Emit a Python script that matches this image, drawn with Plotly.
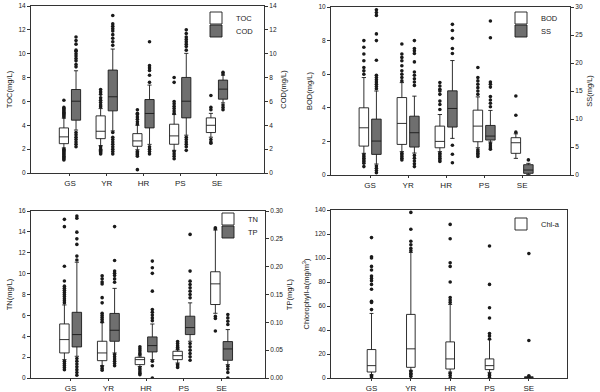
import plotly.graph_objects as go

categories = ["GS", "YR", "HR", "PS", "SE"]
cat_pos = [1, 2, 3, 4, 5]

# ---- Panel 1: TOC / COD (mg/L) ----
toc_q1 = [2.46, 2.88, 2.24, 2.41, 3.39]
toc_med = [3.03, 3.50, 2.69, 3.11, 4.00]
toc_q3 = [3.78, 4.79, 3.30, 4.09, 4.62]
toc_lo = [2.1, 2.3, 1.95, 1.9, 3.0]
toc_hi = [4.6, 5.4, 4.0, 4.9, 5.0]
toc_out = [
    [6.1, 5.5, 5.4, 5.3, 5.2, 5.1, 5.0, 4.9, 4.8, 4.7, 2.0, 1.9, 1.8, 1.7, 1.6, 1.5, 1.4, 1.3, 1.2, 1.1],
    [7.0, 6.8, 6.6, 6.3, 6.1, 5.9, 5.7, 5.55, 2.2, 2.0, 1.9, 1.8, 1.7, 1.6],
    [5.3, 5.0, 4.9, 4.7, 4.5, 4.3, 4.1, 1.8, 1.7, 1.6, 1.5, 1.4, 0.28],
    [8.0, 7.6, 6.0, 5.8, 5.6, 5.4, 5.2, 5.0, 1.8, 1.6, 1.4, 1.2],
    [6.5, 5.5, 5.3, 2.8, 2.6, 2.5],
]
cod_q1 = [4.43, 5.21, 3.78, 4.62, 6.19]
cod_med = [6.02, 6.39, 4.99, 6.02, 7.03]
cod_q3 = [7.0, 8.63, 6.16, 8.01, 7.79]
cod_lo = [3.6, 3.53, 2.4, 3.17, 5.88]
cod_hi = [8.57, 10.39, 7.37, 10.03, 8.2]
cod_out = [
    [11.4, 11.1, 10.8, 10.3, 10.2, 10.0, 9.8, 9.6, 9.4, 9.1, 8.9, 3.4, 3.2, 3.0, 2.8, 2.6, 2.4, 2.2],
    [13.2, 12.5, 12.3, 12.1, 11.9, 11.6, 11.3, 11.0, 10.7, 3.4, 3.0, 2.8, 2.6, 2.4, 2.2, 2.0, 1.8, 1.6],
    [11.0, 9.0, 8.8, 8.6, 8.2, 7.6, 2.2, 2.0, 1.8, 1.6],
    [12.0, 11.7, 11.4, 11.2, 11.0, 10.8, 10.6, 10.3, 3.0, 2.8, 2.6, 2.4, 2.2, 1.9],
    [8.45, 8.3, 5.7, 5.5, 5.3],
]

# ---- Panel 2: BOD / SS (mg/L) ----
bod_q1 = [1.72, 1.82, 1.62, 1.98, 1.29]
bod_med = [2.81, 3.07, 2.0, 2.91, 1.92]
bod_q3 = [4.0, 4.61, 2.91, 3.86, 2.22]
bod_lo = [1.29, 1.39, 1.39, 1.62, 0.99]
bod_hi = [5.8, 5.5, 3.6, 4.65, 2.45]
bod_out = [
    [8.0, 7.6, 7.2, 6.8, 6.4, 6.2, 6.0, 1.2, 1.1, 1.0, 0.9, 0.8, 0.7, 0.5],
    [7.8, 7.2, 7.0, 6.8, 6.5, 6.2, 6.0, 5.8, 5.6, 1.3, 1.2, 1.1, 1.0, 0.9],
    [5.5, 5.3, 5.1, 5.0, 4.8, 4.4, 4.2, 3.9, 1.3, 1.2, 1.1, 1.0, 0.9, 0.8],
    [6.4, 5.8, 5.6, 5.4, 5.2, 5.0, 4.8, 1.5, 1.4, 1.3, 1.2, 1.1],
    [4.7, 3.56, 2.55],
]
ss_q1 = [3.68, 4.99, 8.56, 6.24, 0.3]
ss_med = [6.06, 7.55, 11.88, 6.95, 0.89]
ss_q3 = [9.98, 10.5, 15.03, 8.85, 1.84]
ss_lo = [1.96, 3.92, 6.54, 5.9, 0.1]
ss_hi = [15.0, 14.08, 20.44, 11.53, 2.08]
ss_out = [
    [29.5, 29.0, 28.5, 25.2, 24.0, 20.5, 17.8, 17.4, 17.0, 16.6, 16.2, 15.8, 15.4, 1.6, 1.2, 0.8, 0.4],
    [24.0, 22.6, 22.2, 21.7, 20.2, 18.4, 17.8, 17.2, 16.6, 16.0, 3.5, 3.0, 2.5, 2.0, 1.5],
    [26.9, 25.8, 24.4, 22.6, 21.7, 5.3, 3.7, 2.2],
    [27.5, 24.5, 16.6, 16.2, 15.7, 14.0, 13.4, 12.8, 12.2, 5.6, 5.2, 4.8, 4.6],
    [2.7],
]

# ---- Panel 3: TN / TP (mg/L) ----
tn_q1 = [2.4, 1.66, 1.28, 1.76, 7.04]
tn_med = [3.68, 2.4, 1.76, 2.14, 9.02]
tn_q3 = [5.18, 3.52, 1.98, 2.56, 10.18]
tn_lo = [1.76, 1.18, 1.1, 1.44, 6.2]
tn_hi = [7.0, 5.3, 2.1, 2.7, 14.18]
tn_out = [
    [15.2, 14.5, 10.7, 9.3, 8.8, 8.6, 8.4, 8.2, 8.0, 7.8, 7.6, 7.4, 7.2, 1.6, 1.4, 1.2, 1.0, 0.8],
    [9.8, 9.5, 9.2, 9.0, 7.7, 7.2, 6.2, 6.0, 5.8, 5.6, 5.4, 1.1, 0.9, 0.75],
    [3.0, 2.8, 2.6, 2.4, 2.25, 0.95, 0.8, 0.6, 0.45, 0.32],
    [3.5, 3.3, 3.1, 2.95, 2.8, 1.3, 1.15, 1.0],
    [14.4, 14.3, 5.9, 5.7, 4.5],
]
tp_q1 = [0.0558, 0.066, 0.0468, 0.078, 0.0318]
tp_med = [0.078, 0.0858, 0.0582, 0.0906, 0.0522]
tp_q3 = [0.118, 0.116, 0.0738, 0.111, 0.0654]
tp_lo = [0.039, 0.045, 0.033, 0.066, 0.024]
tp_hi = [0.208, 0.161, 0.097, 0.135, 0.087]
tp_out = [
    [0.291, 0.287, 0.262, 0.25, 0.24, 0.219, 0.212, 0.035, 0.03, 0.025, 0.02, 0.015, 0.01, 0.005],
    [0.272, 0.211, 0.192, 0.188, 0.184, 0.178, 0.172, 0.042, 0.038, 0.034, 0.03, 0.026, 0.022],
    [0.21, 0.198, 0.188, 0.156, 0.123, 0.118, 0.113, 0.108, 0.103, 0.03, 0.022, 0.0],
    [0.258, 0.192, 0.174, 0.168, 0.162, 0.156, 0.15, 0.144, 0.062, 0.056, 0.05, 0.044, 0.038, 0.032],
    [0.114, 0.108, 0.102, 0.096, 0.021, 0.016, 0.01, 0.0],
]

# ---- Panel 4: Chl-a (mg/m3) ----
chl_q1 = [5.0, 8.9, 7.5, 7.0, 0.3]
chl_med = [10.3, 24.3, 15.9, 10.3, 0.6]
chl_q3 = [23.7, 53.0, 30.1, 15.9, 1.0]
chl_lo = [2.8, 6.4, 5.0, 4.7, 0.1]
chl_hi = [53.8, 104.6, 61.3, 32.0, 1.5]
chl_out = [
    [117, 101, 100, 93, 90, 85, 83, 81, 78, 74, 64, 63, 57, 2.0, 1.0],
    [138, 124, 114, 111, 108, 106, 5.6, 4.0, 3.0, 1.4],
    [128, 116, 96, 93, 80, 67, 65, 63, 4.0, 2.0, 0.0],
    [110, 78, 58.5, 50, 37, 35, 32.5, 3.3, 2.0, 0.5],
    [103.7, 31.2, 1.8],
]

FONT = "Liberation Sans, Arial, sans-serif"
INK = "#1a1a1a"
GRAY = "#6f6f6f"
OFF = 0.165
BW = 0.25

fig = go.Figure()


def add_series(name, q1, med, q3, lo, hi, out, shift, fill, xa, ya, legend, width=BW):
    xpos = [c + shift for c in cat_pos]
    fig.add_trace(go.Box(
        x=xpos, q1=q1, median=med, q3=q3, lowerfence=lo, upperfence=hi,
        name=name, fillcolor=fill, line=dict(color=INK, width=0.9),
        width=width, whiskerwidth=0.45, boxpoints=False,
        xaxis=xa, yaxis=ya, legend=legend, showlegend=True, hoverinfo="skip",
    ))
    xs, ys = [], []
    for xp, vals in zip(xpos, out):
        xs += [xp] * len(vals)
        ys += vals
    fig.add_trace(go.Scatter(
        x=xs, y=ys, mode="markers", marker=dict(size=3.6, color=INK),
        xaxis=xa, yaxis=ya, showlegend=False, hoverinfo="skip",
    ))


add_series("TOC", toc_q1, toc_med, toc_q3, toc_lo, toc_hi, toc_out, -OFF, "white", "x", "y", "legend")
add_series("COD", cod_q1, cod_med, cod_q3, cod_lo, cod_hi, cod_out, OFF, GRAY, "x", "y2", "legend2")
add_series("BOD", bod_q1, bod_med, bod_q3, bod_lo, bod_hi, bod_out, -OFF, "white", "x2", "y3", "legend3")
add_series("SS", ss_q1, ss_med, ss_q3, ss_lo, ss_hi, ss_out, OFF, GRAY, "x2", "y4", "legend4")
add_series("TN", tn_q1, tn_med, tn_q3, tn_lo, tn_hi, tn_out, -OFF, "white", "x3", "y5", "legend5")
add_series("TP", tp_q1, tp_med, tp_q3, tp_lo, tp_hi, tp_out, OFF, GRAY, "x3", "y6", "legend6")
add_series("Chl-a", chl_q1, chl_med, chl_q3, chl_lo, chl_hi, chl_out, 0.0, "white", "x4", "y7", "legend7", width=0.22)

W, H = 600, 392


def px_x(p):
    return p / W


def px_y(p):
    return 1 - p / H


tick_font = dict(family=FONT, size=6.5, color=INK)
title_font = dict(family=FONT, size=7.5, color=INK)
cat_font = dict(family=FONT, size=8, color=INK)

axis_common = dict(showline=True, linecolor="#333", linewidth=1, ticks="outside",
                   tickcolor="#333", showgrid=False, zeroline=False,
                   automargin=False)


def xaxis(dom, rng, anchor):
    return dict(domain=dom, range=rng, anchor=anchor, tickvals=cat_pos, ticktext=categories,
                tickfont=cat_font, mirror=True, ticklen=2, **axis_common)


def yleft(dom, rng, dtick, title, anchor, fmt=None, mirror=False):
    d = dict(domain=dom, range=rng, dtick=dtick, anchor=anchor, tickfont=tick_font, ticklen=3,
             title=dict(text=title, font=title_font, standoff=4), mirror=mirror, **axis_common)
    if fmt:
        d["tickformat"] = fmt
    return d


def yright(over, rng, dtick, title, anchor, fmt=None):
    d = dict(overlaying=over, side="right", range=rng, dtick=dtick, anchor=anchor, ticklen=3,
             tickfont=tick_font, title=dict(text=title, font=title_font, standoff=4), **axis_common)
    if fmt:
        d["tickformat"] = fmt
    return d


legend_style = dict(bgcolor="rgba(0,0,0,0)", borderwidth=0, font=dict(family=FONT, size=7.5, color=INK),
                    xanchor="left", yanchor="middle", itemwidth=30)


def leg(xp, yp):
    d = dict(legend_style)
    d.update(x=px_x(xp), y=px_y(yp))
    return d


fig.update_layout(
    width=W, height=H, margin=dict(l=0, r=0, t=0, b=0),
    paper_bgcolor="white", plot_bgcolor="white",
    font=dict(family=FONT, color=INK),
    boxmode="overlay",
    xaxis=xaxis([px_x(31), px_x(264)], [-0.06, 6.28], "y"),
    yaxis=yleft([px_y(173), px_y(6)], [0, 14], 2, "TOC(mg/L)", "x"),
    yaxis2=yright("y", [0, 14], 2, "COD(mg/L)", "x"),
    xaxis2=xaxis([px_x(331), px_x(570)], [-0.03, 6.26], "y3"),
    yaxis3=yleft([px_y(175), px_y(7)], [0, 10], 2, "BOD(mg/L)", "x2"),
    yaxis4=yright("y3", [0, 30], 5, "SS(mg/L)", "x2"),
    xaxis3=xaxis([px_x(31), px_x(265)], [-0.05, 6.15], "y5"),
    yaxis5=yleft([px_y(378), px_y(211)], [0, 16], 2, "TN(mg/L)", "x3"),
    yaxis6=yright("y5", [0, 0.30], 0.05, "TP(mg/L)", "x3", fmt=".2f"),
    xaxis4=xaxis([px_x(331), px_x(567)], [-0.03, 5.97], "y7"),
    yaxis7=yleft([px_y(378), px_y(210)], [0, 140], 20, "Chlorophyll-a(mg/m<sup>3</sup>)", "x4", mirror=True),
    legend=leg(196, 18),
    legend2=leg(196, 31),
    legend3=leg(501, 18),
    legend4=leg(501, 31),
    legend5=leg(208, 219),
    legend6=leg(208, 232),
    legend7=leg(501, 224),
)

fig.write_html("out.html", config={"displayModeBar": False},
               post_script="document.body.style.margin='0';")
